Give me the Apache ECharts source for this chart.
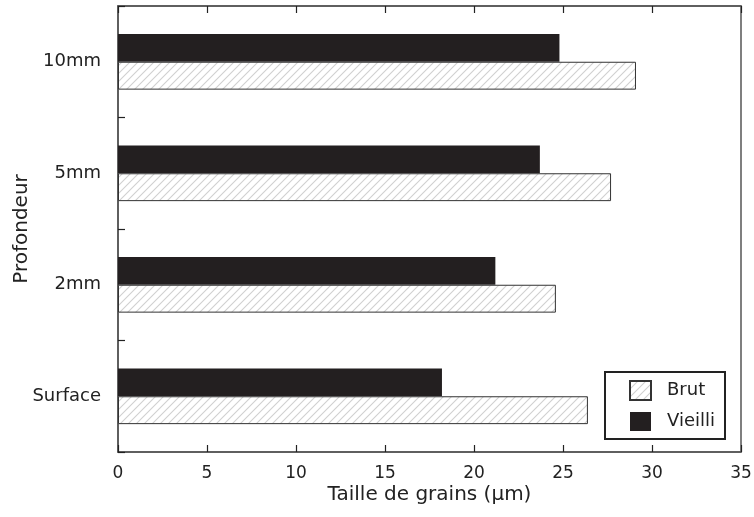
<!DOCTYPE html>
<html>
<head>
<meta charset="utf-8">
<script src="https://cdn.jsdelivr.net/npm/echarts@6/dist/echarts.min.js"></script>
<style>html,body{margin:0;padding:0;background:#fff;}#c{width:754px;height:517px;}</style>
</head>
<body>
<div id="c"></div>
<script>
const categories = ['Surface', '2mm', '5mm', '10mm'];
const brut = [26.4, 24.6, 27.7, 29.1];
const vieilli = [18.2, 21.2, 23.7, 24.8];
const xTicks = [0, 5, 10, 15, 20, 25, 30, 35];

function hatch() {
  const s = 8;
  const cv = document.createElement('canvas');
  cv.width = s; cv.height = s;
  const g = cv.getContext('2d');
  g.fillStyle = '#ffffff';
  g.fillRect(0, 0, s, s);
  g.strokeStyle = '#d0d0d0';
  g.lineWidth = 1.1;
  g.beginPath();
  g.moveTo(-1, s + 1); g.lineTo(s + 1, -1);
  g.moveTo(-1, 1); g.lineTo(1, -1);
  g.moveTo(s - 1, s + 1); g.lineTo(s + 1, s - 1);
  g.stroke();
  return cv;
}
const pat = { image: hatch(), repeat: 'repeat' };

const chart = echarts.init(document.getElementById('c'), null, { renderer: 'canvas' });
const axisLine = { show: true, lineStyle: { color: '#555', width: 1.5 } };
const tick = { show: true, inside: true, length: 7, lineStyle: { color: '#222', width: 1.2 } };
const font = 'DejaVu Sans, sans-serif';
chart.setOption({
  backgroundColor: '#fff',
  animation: false,
  grid: { left: 118, right: 13, top: 6, bottom: 65, containLabel: false, outerBoundsMode: 'none',
    show: true, borderColor: '#555', borderWidth: 1.5, backgroundColor: 'transparent' },
  legend: {
    orient: 'vertical',
    left: 605, top: 372,
    padding: [8, 10, 8, 24],
    borderColor: '#222', borderWidth: 2,
    itemWidth: 21, itemHeight: 19, itemGap: 11,
    icon: 'rect',
    textStyle: { fontSize: 18, fontFamily: font, color: '#222', padding: [0, 0, 0, 11] },
    data: ['Brut', 'Vieilli']
  },
  xAxis: [
    {
      type: 'value', min: 0, max: 35, interval: 5, position: 'bottom',
      axisLine: axisLine, axisTick: tick,
      axisLabel: { fontSize: 17, fontFamily: font, color: '#222', margin: 13,
        formatter: v => xTicks.includes(v) ? String(v) : '' },
      splitLine: { show: false },
      name: 'Taille de grains (µm)', nameLocation: 'middle', nameGap: 33, nameMoveOverlap: false,
      nameTextStyle: { fontSize: 20, fontFamily: font, color: '#222' }
    },
    {
      type: 'value', min: 0, max: 35, interval: 5, position: 'top',
      axisLine: axisLine, axisTick: tick,
      axisLabel: { show: false }, splitLine: { show: false }
    }
  ],
  yAxis: [
    {
      type: 'category', data: categories, position: 'left',
      axisLine: axisLine, axisTick: tick,
      axisLabel: { fontSize: 18, fontFamily: font, color: '#222', margin: 17 },
      name: 'Profondeur', nameLocation: 'middle', nameGap: 86, nameRotate: 90, nameMoveOverlap: false,
      nameTextStyle: { fontSize: 20, fontFamily: font, color: '#222' }
    }
  ],
  series: [
    {
      name: 'Vieilli', type: 'bar', data: vieilli, barWidth: '25%', barGap: '0%',
      itemStyle: { color: '#231f20' }
    },
    {
      name: 'Brut', type: 'bar', data: brut, barWidth: '25%', barGap: '0%',
      itemStyle: { color: pat, borderColor: '#333', borderWidth: 1 }
    }
  ]
});
</script>
</body>
</html>
